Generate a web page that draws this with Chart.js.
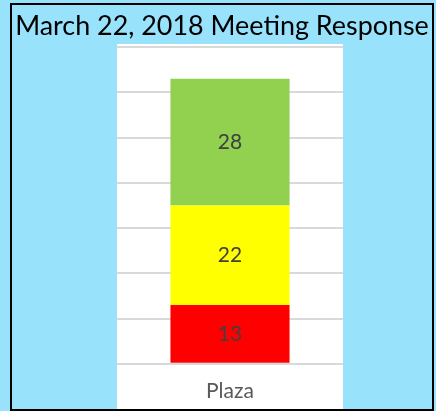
<!DOCTYPE html>
<html>
<head>
<meta charset="utf-8">
<title>March 22, 2018 Meeting Response</title>
<script src="https://cdn.jsdelivr.net/npm/chart.js@4/dist/chart.umd.min.js"></script>
<style>
  html, body { margin: 0; padding: 0; }
  body { width: 436px; height: 411px; background: #98E2FC; position: relative; overflow: hidden; }
  #frame {
    position: absolute; left: 10px; top: 3px; width: 420px; height: 404px;
    border: 2px solid #000; z-index: 2; pointer-events: none;
  }
  #title {
    position: absolute; left: 12px; top: 7px; width: 420px; text-align: center; white-space: nowrap;
    font-family: Lato, sans-serif; font-size: 26.9px; line-height: 35px; color: #000; z-index: 3;
  }
  #panel { position: absolute; left: 117px; top: 44px; width: 226px; height: 367px; background: #fff; }
  #grafico { display: block; }
</style>
</head>
<body>
<div id="title">March 22, 2018 Meeting Response</div>
<div id="panel"><canvas id="grafico" width="226" height="367"></canvas></div>
<div id="frame"></div>
<script>
// Respostas por categoria (barra empilhada única)
const categorias = ['Plaza'];
const rotulosSerie = ['Não', 'Talvez', 'Sim'];
const valoresVermelho = [13];
const valoresAmarelo = [22];
const valoresVerde = [28];
const coresSerie = ['#FF0000', '#FFFF00', '#92D050'];

// Escreve o valor no centro de cada segmento
const rotulosValores = {
    id: 'rotulosValores',
    afterDatasetsDraw(chart) {
        const ctx = chart.ctx;
        ctx.save();
        ctx.font = '21px Lato, sans-serif';
        ctx.fillStyle = '#404040';
        ctx.textAlign = 'center';
        ctx.textBaseline = 'middle';
        chart.data.datasets.forEach((ds, i) => {
            chart.getDatasetMeta(i).data.forEach((bar, j) => {
                const meio = (bar.y + bar.base) / 2;
                ctx.fillText(String(ds.data[j]), bar.x, meio);
            });
        });
        ctx.restore();
    }
};

const dados = {
    labels: categorias,
    datasets: [
        { label: rotulosSerie[0], data: valoresVermelho, backgroundColor: coresSerie[0] },
        { label: rotulosSerie[1], data: valoresAmarelo, backgroundColor: coresSerie[1] },
        { label: rotulosSerie[2], data: valoresVerde, backgroundColor: coresSerie[2] }
    ]
};

new Chart(document.getElementById('grafico'), {
    type: 'bar',
    data: dados,
    options: {
        responsive: false,
        animation: false,
        devicePixelRatio: 1,
        barPercentage: 0.527,
        categoryPercentage: 1,
        layout: { padding: { top: 3, bottom: 0, left: 0, right: 0 } },
        plugins: {
            legend: { display: false },
            tooltip: { enabled: false }
        },
        scales: {
            x: {
                stacked: true,
                grid: { display: false },
                border: { display: false },
                ticks: { color: '#595959', font: { family: 'Lato', size: 21 }, padding: 7 }
            },
            y: {
                stacked: true,
                min: 0,
                max: 70,
                grid: { color: '#D9D9D9', lineWidth: 2, drawTicks: false },
                border: { display: false },
                ticks: { display: false, stepSize: 10 }
            }
        }
    },
    plugins: [rotulosValores]
});
</script>
</body>
</html>
